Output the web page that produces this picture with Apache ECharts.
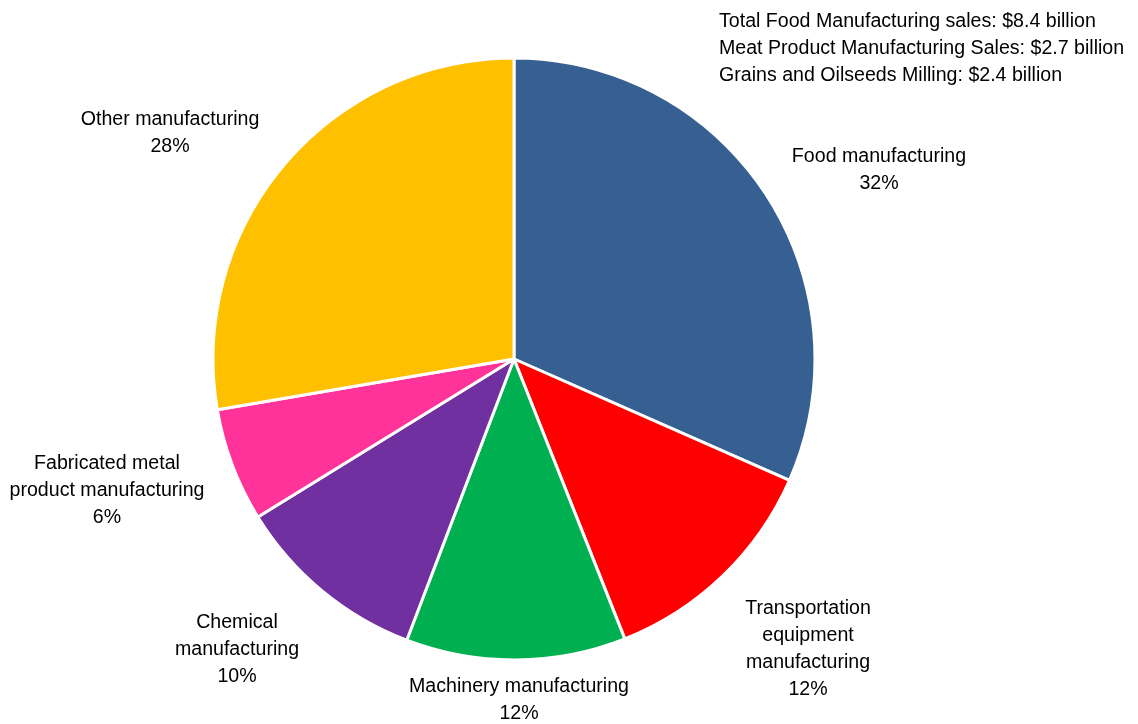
<!DOCTYPE html>
<html>
<head>
<meta charset="utf-8">
<script src="https://cdn.jsdelivr.net/npm/echarts@6/dist/echarts.min.js"></script>
<style>
  html, body { margin: 0; padding: 0; background: #fff; }
  #chart { width: 1138px; height: 724px; }
</style>
</head>
<body>
<div id="chart"></div>
<script>
var categories = [
  'Food manufacturing',
  'Transportation\nequipment\nmanufacturing',
  'Machinery manufacturing',
  'Chemical\nmanufacturing',
  'Fabricated metal\nproduct manufacturing',
  'Other manufacturing'
];
var shares = [31.6, 12.4, 11.8, 10.4, 6.1, 27.7];
var shareLabels = ['32%', '12%', '12%', '10%', '6%', '28%'];
var colors = ['#366092', '#ff0000', '#00b050', '#7030a0', '#ff3399', '#ffc000'];
var notes = [
  'Total Food Manufacturing sales: $8.4 billion',
  'Meat Product Manufacturing Sales: $2.7 billion',
  'Grains and Oilseeds Milling: $2.4 billion'
];

// where each slice's label sits (center of the text block)
var labelSpots = [[879, 170], [808, 649], [519, 700], [237, 650], [107, 491], [170, 133]];

var chart = echarts.init(document.getElementById('chart'));

var option = {
  animation: false,
  textStyle: { fontFamily: 'Liberation Sans, Arial, sans-serif' },
  title: {
    text: notes.join('\n'),
    left: 714,
    top: 3,
    textStyle: {
      fontSize: 19.6,
      fontWeight: 'normal',
      color: '#000',
      lineHeight: 27,
      fontFamily: 'Liberation Sans, Arial, sans-serif'
    }
  },
  series: [{
    type: 'pie',
    center: [514, 359],
    radius: 301,
    startAngle: 90,
    clockwise: true,
    itemStyle: { borderColor: '#fff', borderWidth: 3 },
    labelLine: { show: false },
    label: {
      show: true,
      position: 'outside',
      fontSize: 19.6,
      lineHeight: 27,
      color: '#000',
      align: 'center',
      overflow: 'none',
      fontFamily: 'Liberation Sans, Arial, sans-serif',
      formatter: function (p) {
        return p.name + '\n' + shareLabels[p.dataIndex];
      }
    },
    labelLayout: function (p) {
      var s = labelSpots[p.dataIndex];
      return { x: s[0], y: s[1], align: 'center', verticalAlign: 'middle' };
    },
    data: categories.map(function (c, i) {
      return { name: c, value: shares[i], itemStyle: { color: colors[i] } };
    })
  }]
};

chart.setOption(option);
</script>
</body>
</html>
